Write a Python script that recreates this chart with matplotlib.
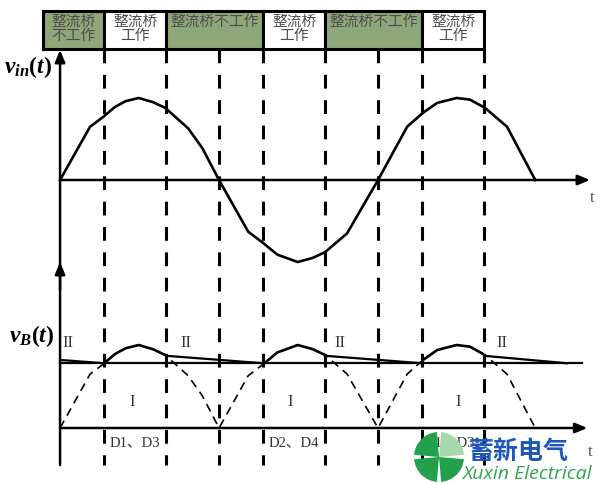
import matplotlib
matplotlib.use("Agg")  # no display
import matplotlib.pyplot as plt
from matplotlib.patches import Rectangle, Wedge
from matplotlib.transforms import blended_transform_factory

W, H, DPI = 615, 483, 100

PHASE = [0, 34, 49, 62, 74, 89, 105, 119, 145, 161, 180, 213, 229, 246,
         269, 286, 300, 325, 360, 393, 411, 427, 449, 464, 481, 506, 538]
VIN = [0, 0.65, 0.77, 0.89, 0.96, 1.0, 0.95, 0.88, 0.63, 0.39, 0, -0.63,
       -0.76, -0.91, -1.0, -0.95, -0.88, -0.65, 0, 0.65, 0.82, 0.94, 1.0,
       0.98, 0.88, 0.65, 0]
VB_ABS = [abs(v) for v in VIN]

SWITCH = [50, 120, 180, 230, 300, 360, 410, 480]
CONDUCT = [(50, 120), (230, 300), (410, 480)]

BOX_EDGES = [-19, 50, 120, 230, 300, 410, 480]
BOX_LABELS = [["整流桥", "不工作"], ["整流桥", "工作"], ["整流桥不工作"],
              ["整流桥", "工作"], ["整流桥不工作"], ["整流桥", "工作"]]
BOX_ON = [False, True, False, True, False, True]

# capacitor hold-up (discharge) segments and the reference level
HOLD_T = [(0, 50), (120, 230), (300, 410), (480, 574)]
HOLD_V = [(0.82, 0.78), (0.87, 0.78), (0.87, 0.78), (0.87, 0.78)]
LEVEL = 0.78
LEVEL_END = 591

II_T = [9, 142, 317, 500]
I_T = [82, 260, 451]
D_LABELS = ["D1、D3", "D2、D4", "D1、D3"]
D_T = [85, 265, 441]

GREEN = "#8DA67A"
SERIF = ["Liberation Serif", "Noto Sans CJK SC"]
CJK = ["Noto Sans CJK SC", "DejaVu Sans"]

plt.rcParams["mathtext.fontset"] = "custom"
plt.rcParams["mathtext.it"] = "Liberation Serif:italic:bold"
plt.rcParams["mathtext.rm"] = "Liberation Serif:bold"

fig = plt.figure(figsize=(W / DPI, H / DPI), dpi=DPI)
XLIM = (-68, 628.3)


def add_row(top, bottom):
    ax = fig.add_axes([0, 1 - bottom / H, 1, (bottom - top) / H])
    ax.set_xlim(*XLIM)
    ax.axis("off")
    ax.patch.set_visible(False)
    return ax


ax_top = add_row(50, 310)
ax_top.set_ylim(-1.585, 1.585)
ax_bot = add_row(262, 470)
ax_bot.set_ylim(-0.506, 2.0)

ax_px = fig.add_axes([0, 0, 1, 1])
ax_px.set_xlim(0, W)
ax_px.set_ylim(H, 0)
ax_px.axis("off")
ax_px.patch.set_visible(False)
ax_px.set_zorder(3)

# x in phase, y in pixel rows
tr = blended_transform_factory(ax_top.transData, ax_px.transData)
arrow = dict(arrowstyle="-|>,head_length=0.6,head_width=0.25",
             color="black", lw=1.8, mutation_scale=12,
             shrinkA=0, shrinkB=0)

# state boxes on top
for x0, x1, rows, on in zip(BOX_EDGES[:-1], BOX_EDGES[1:], BOX_LABELS,
                            BOX_ON):
    ax_px.add_patch(Rectangle((x0, 11), x1 - x0, 38, transform=tr,
                              facecolor="white" if on else GREEN,
                              edgecolor="black", lw=2.2))
    for k, row in enumerate(rows):
        ax_px.text((x0 + x1) / 2, 22 + 14 * k, row, transform=tr,
                   ha="center", va="center", fontsize=10.6, color="#4d4d4d",
                   family=CJK)

# switching instants
for p in SWITCH:
    ax_px.plot([p, p], [49, 465], transform=tr, color="black", lw=2.2,
               ls=(0, (4.5, 3.8)))

# vertical axis with two arrow heads
ax_px.annotate("", xy=(0, 50), xytext=(0, 465), xycoords=tr,
               textcoords=tr, arrowprops=arrow)
ax_px.annotate("", xy=(0, 262), xytext=(0, 290), xycoords=tr,
               textcoords=tr, arrowprops=arrow)

# upper plot: v_in(t)
ax_top.plot(PHASE, VIN, color="black", lw=1.9)
ax_top.annotate("", xy=(600, 0), xytext=(0, 0), arrowprops=arrow)
ax_top.text(602, -0.22, "t", fontsize=12, color="#555555", family=SERIF,
            ha="center", va="center")

# lower plot: v_B(t)
ax_bot.annotate("", xy=(597, 0), xytext=(0, 0), arrowprops=arrow)
ax_bot.plot([0, LEVEL_END], [LEVEL, LEVEL], color="black", lw=1.6)
for (t0, t1), (v0, v1) in zip(HOLD_T, HOLD_V):
    ax_bot.plot([t0, t1], [v0, v1], color="black", lw=1.6)
ax_bot.plot(PHASE, VB_ABS, color="black", lw=1.2, ls=(0, (5, 3.5)))
clip_tr = blended_transform_factory(ax_bot.transData, ax_bot.transAxes)
for t0, t1 in CONDUCT:
    line, = ax_bot.plot(PHASE, VB_ABS, color="black", lw=1.9)
    line.set_clip_path(Rectangle((t0, 0), t1 - t0, 1, transform=clip_tr))

for t in II_T:
    ax_bot.text(t, 1.02, "II", fontsize=12, color="#333333", family=SERIF,
                ha="center", va="center")
for t in I_T:
    ax_bot.text(t, 0.31, "I", fontsize=12, color="#333333", family=SERIF,
                ha="center", va="center")
for lab, t in zip(D_LABELS, D_T):
    ax_bot.text(t, -0.18, lab, fontsize=10.5, color="#333333",
                family=SERIF, ha="center", va="center")
ax_bot.text(600, -0.29, "t", fontsize=12, color="#555555", family=SERIF,
            ha="center", va="center")

# axis names
ax_px.text(28, 67, r"$v_{in}(t)$", fontsize=17, ha="center", va="center")
ax_px.text(32, 336, r"$v_B(t)$", fontsize=17, ha="center", va="center")

# watermark logo
for th1, th2, col in [(275, 355, "#A8D8AE"), (185, 265, "#23A04C"),
                      (95, 175, "#23A04C"), (5, 85, "#23A04C")]:
    ax_px.add_patch(Wedge((439, 457), 25, th1, th2, facecolor=col,
                          edgecolor="none", zorder=10))
ax_px.text(469, 452, "蓄新电气", fontsize=18, weight="black",
           color="#1F57B8", family=CJK, ha="left", va="center", zorder=11)
ax_px.text(462, 474, "Xuxin Electrical", fontsize=14, color="#2EA44F",
           family="Open Sans", style="italic", ha="left", va="center",
           zorder=11)

fig.savefig("out.png", dpi=DPI)
plt.close(fig)
